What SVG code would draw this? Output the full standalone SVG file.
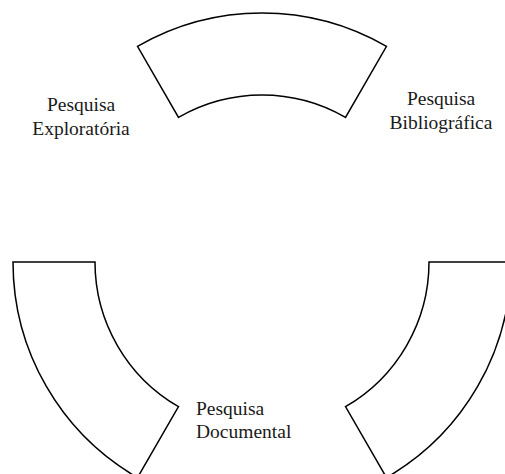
<svg xmlns="http://www.w3.org/2000/svg" width="505" height="474" viewBox="0 0 505 474">
  <style>
    .seg { fill: #ffffff; stroke: #000000; stroke-width: 1.5; stroke-linejoin: miter; }
    .lbl { font-family: "Liberation Serif", "Times New Roman", serif; font-size: 19.5px; fill: #1a1a1a; }
  </style>
  <rect width="505" height="474" fill="#ffffff"/>
  <!-- ring segments around centre (262,262), radii 167 / 249 -->
  <g id="segment-top">
    <path class="seg" d="M137.5,46.36 A249,249 0 0 1 386.5,46.36 L345.5,117.37 A167,167 0 0 0 178.5,117.37 Z"/>
  </g>
  <g id="segment-left">
    <path class="seg" d="M13,262 L95,262 A167,167 0 0 0 178.5,406.63 L137.5,477.64 A249,249 0 0 1 13,262 Z"/>
  </g>
  <g id="segment-right">
    <path class="seg" d="M429,262 L511,262 A249,249 0 0 1 386.5,477.64 L345.5,406.63 A167,167 0 0 0 429,262 Z"/>
  </g>
  <g id="connectors"></g>
  <g id="label-exploratoria">
    <text class="lbl" x="81" y="110.5" text-anchor="middle">Pesquisa</text>
    <text class="lbl" x="81" y="134.5" text-anchor="middle">Exploratória</text>
  </g>
  <g id="label-bibliografica">
    <text class="lbl" x="441" y="105" text-anchor="middle">Pesquisa</text>
    <text class="lbl" x="441" y="129" text-anchor="middle">Bibliográfica</text>
  </g>
  <g id="label-documental">
    <text class="lbl" x="196" y="414.5">Pesquisa</text>
    <text class="lbl" x="196" y="438">Documental</text>
  </g>
</svg>
